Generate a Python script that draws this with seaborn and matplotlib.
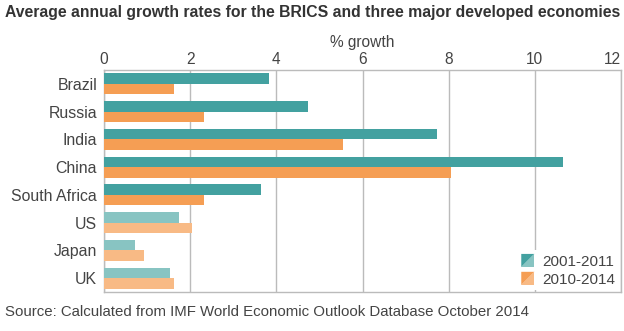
import matplotlib
matplotlib.use("Agg")
import matplotlib.pyplot as plt
import matplotlib.patches as mpatches
from matplotlib.legend_handler import HandlerBase
import seaborn as sns
import pandas as pd

countries = ["Brazil", "Russia", "India", "China", "South Africa", "US", "Japan", "UK"]
growth_2001_2011 = [3.83, 4.73, 7.74, 10.65, 3.64, 1.74, 0.72, 1.53]
growth_2010_2014 = [1.62, 2.33, 5.55, 8.05, 2.33, 2.04, 0.93, 1.62]
periods = ["2001-2011", "2010-2014"]
x_ticks = [0, 2, 4, 6, 8, 10, 12]
developed = ["US", "Japan", "UK"]

dark = {"2001-2011": "#43a1a0", "2010-2014": "#f59e54"}
light = {"2001-2011": "#88c4c2", "2010-2014": "#f8ba85"}

rows = []
for c, a, b in zip(countries, growth_2001_2011, growth_2010_2014):
    rows.append({"Country": c, "Period": periods[0], "Growth": a})
    rows.append({"Country": c, "Period": periods[1], "Growth": b})
df = pd.DataFrame(rows)

sns.set_theme(style="white")
plt.rcParams["font.family"] = ["Liberation Sans", "DejaVu Sans"]

fig = plt.figure(figsize=(6.24, 3.31), dpi=100)
ax = fig.add_axes([104 / 624, 1 - 292 / 331, (621 - 104) / 624, (292 - 70) / 331])

sns.barplot(data=df, y="Country", x="Growth", hue="Period", order=countries,
            hue_order=periods, palette=[dark[p] for p in periods],
            saturation=1, width=0.76, orient="h", ax=ax, legend=False, zorder=3)

for p, cont in zip(periods, ax.containers):
    for c, bar in zip(countries, cont):
        bar.set_edgecolor("none")
        if c in developed:
            bar.set_facecolor(light[p])

gray = "#bbbbbb"
txt = "#444444"
ax.set_xlim(0, 12)
ax.set_ylim(len(countries) - 0.5, -0.5)
ax.set_xticks(x_ticks)
ax.set_xticklabels([str(t) for t in x_ticks])
ax.xaxis.tick_top()
ax.xaxis.set_label_position("top")
ax.set_xlabel("% growth", fontsize=11.2, color=txt, labelpad=4)
ax.set_ylabel("")
ax.tick_params(axis="x", length=0, labelsize=11.2, colors=txt, pad=2)
ax.tick_params(axis="y", length=0, labelsize=11.4, colors=txt, pad=5)
ax.get_xticklabels()[-1].set_horizontalalignment("right")
ax.grid(axis="x", color=gray, linewidth=1, zorder=0)
ax.grid(axis="y", visible=False)
for s in ax.spines.values():
    s.set_color(gray)
    s.set_linewidth(1)
    s.set_visible(True)


class SplitHandler(HandlerBase):
    def __init__(self, c1, c2):
        super().__init__()
        self.c1, self.c2 = c1, c2

    def create_artists(self, legend, orig_handle, xd, yd, w, h, fontsize, trans):
        s = min(w, h)
        x0, y0 = -xd, -yd + (h - s) / 2
        t1 = mpatches.Polygon([[x0, y0], [x0 + s, y0 + s], [x0, y0 + s]], closed=True,
                              facecolor=self.c1, edgecolor="none", transform=trans)
        t2 = mpatches.Polygon([[x0, y0], [x0 + s, y0], [x0 + s, y0 + s]], closed=True,
                              facecolor=self.c2, edgecolor="none", transform=trans)
        return [t1, t2]


handles = [mpatches.Patch(label=p) for p in periods]
hmap = {h: SplitHandler(dark[p], light[p]) for h, p in zip(handles, periods)}
leg = ax.legend(handles=handles, labels=periods, handler_map=hmap, loc="lower right",
                bbox_to_anchor=(1.0, 0.0), frameon=True, fontsize=11, handlelength=0.95,
                handleheight=0.95, handletextpad=0.45, labelspacing=0.2,
                borderpad=0.25, borderaxespad=0.1)
leg.get_frame().set_facecolor("white")
leg.get_frame().set_edgecolor("none")
leg.get_frame().set_alpha(1)
leg.set_zorder(5)
for t in leg.get_texts():
    t.set_color(txt)

fig.text(5 / 624, 1 - 12 / 331, "Average annual growth rates for the BRICS and three major developed economies",
         fontsize=11.3, fontweight="bold", color="#333333", va="center", ha="left")
fig.text(5 / 624, 1 - 312 / 331, "Source: Calculated from IMF World Economic Outlook Database October 2014",
         fontsize=10.8, color="#444444", va="center", ha="left")

fig.savefig("out.png", dpi=100)
